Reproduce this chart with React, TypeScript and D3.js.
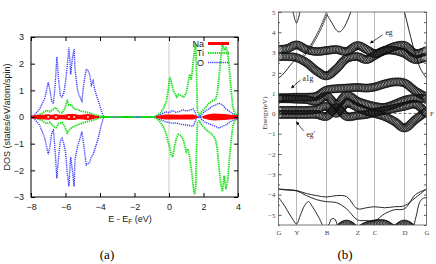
import React, { useRef, useEffect } from 'react';
import * as d3 from 'd3';

// ---------- panel (a): DOS, rows are [energy, spin up, spin down] ----------
const oDos: number[][] = [
  [-8, 0, 0], [-7.8, 0.08, -0.08], [-7.5, 0.3, -0.3], [-7.2, 0.7, -0.8], [-7.0, 1.3, -1.4],
  [-6.9, 1.0, -1.1], [-6.8, 0.6, -0.6], [-6.7, 0.5, -0.5], [-6.6, 1.2, -1.3], [-6.5, 2.25, -2.3],
  [-6.4, 1.4, -1.5], [-6.3, 0.8, -0.9], [-6.2, 0.75, -0.8], [-6.1, 0.9, -1.0], [-6.0, 1.3, -1.3],
  [-5.9, 1.9, -2.1], [-5.8, 2.6, -2.6], [-5.75, 2.2, -2.0], [-5.7, 1.6, -1.5], [-5.6, 2.2, -2.0],
  [-5.5, 2.55, -2.6], [-5.45, 1.8, -1.6], [-5.3, 1.0, -1.1], [-5.2, 0.8, -0.9], [-5.05, 0.6, -0.55],
  [-4.95, 1.2, -1.0], [-4.8, 1.8, -1.8], [-4.7, 1.75, -1.75], [-4.6, 1.6, -1.7], [-4.5, 1.2, -1.5],
  [-4.4, 1.35, -1.4], [-4.3, 1.0, -1.2], [-4.2, 0.8, -1.0], [-4.1, 0.6, -0.8], [-4.0, 0.4, -0.5],
  [-3.9, 0.2, -0.25], [-3.8, 0.02, -0.02], [-3.6, 0, 0], [-1.0, 0, 0], [-0.8, 0.02, -0.02],
  [-0.6, 0.08, -0.08], [-0.4, 0.12, -0.12], [-0.2, 0.2, -0.18], [0, 0.16, -0.2], [0.2, 0.24, -0.24],
  [0.4, 0.18, -0.22], [0.6, 0.2, -0.26], [0.8, 0.28, -0.28], [1.0, 0.22, -0.3], [1.2, 0.26, -0.32],
  [1.4, 0.3, -0.35], [1.5, 0.2, -0.2], [1.6, 0.02, -0.02], [1.8, 0.02, -0.02], [1.9, 0.1, -0.1],
  [2.1, 0.22, -0.2], [2.3, 0.3, -0.25], [2.5, 0.4, -0.3], [2.7, 0.45, -0.35], [2.9, 0.52, -0.42],
  [3.1, 0.45, -0.35], [3.3, 0.3, -0.3], [3.5, 0.22, -0.2], [3.7, 0.12, -0.12], [4.0, 0.08, -0.08],
];

const tiDos: number[][] = [
  [-8, 0, 0], [-7.7, 0.05, -0.05], [-7.4, 0.12, -0.12], [-7.1, 0.25, -0.25], [-6.9, 0.2, -0.2],
  [-6.7, 0.3, -0.35], [-6.55, 0.35, -0.4], [-6.4, 0.2, -0.25], [-6.2, 0.15, -0.2], [-6.05, 0.3, -0.35],
  [-5.9, 0.6, -0.6], [-5.8, 0.45, -0.5], [-5.65, 0.45, -0.4], [-5.5, 0.3, -0.35], [-5.3, 0.28, -0.3],
  [-5.1, 0.22, -0.25], [-4.9, 0.2, -0.2], [-4.6, 0.15, -0.15], [-4.3, 0.08, -0.1], [-4.0, 0.03, -0.03],
  [-3.8, 0, 0], [-0.9, 0, 0], [-0.7, 0.05, -0.05], [-0.5, 0.15, -0.2], [-0.3, 0.35, -0.4],
  [-0.15, 0.6, -0.65], [-0.05, 1.0, -0.95], [0.05, 1.5, -1.15], [0.12, 1.35, -1.4], [0.22, 1.05, -1.5],
  [0.32, 0.9, -1.1], [0.45, 0.75, -0.75], [0.55, 0.85, -0.65], [0.7, 0.8, -0.7], [0.85, 0.75, -0.9],
  [1.0, 0.9, -1.3], [1.1, 1.25, -1.2], [1.2, 1.6, -1.5], [1.28, 1.4, -1.9], [1.36, 1.75, -2.3],
  [1.44, 2.3, -2.8], [1.5, 2.65, -2.9], [1.55, 2.75, -2.6], [1.6, 1.5, -1.2], [1.65, 0.2, -0.2],
  [1.75, 0.08, -0.15], [1.9, 0.2, -0.3], [2.1, 0.35, -0.45], [2.3, 0.5, -0.55], [2.5, 0.6, -0.65],
  [2.7, 0.65, -0.85], [2.8, 0.9, -1.2], [2.9, 1.5, -1.9], [3.0, 2.2, -2.5], [3.1, 2.75, -2.8],
  [3.2, 2.5, -2.2], [3.3, 2.6, -2.7], [3.4, 2.45, -2.4], [3.5, 1.8, -1.6], [3.6, 1.0, -0.9],
  [3.7, 0.4, -0.35], [3.8, 0.15, -0.12], [4.0, 0.06, -0.05],
];

// NaN rows break the Na band where it is empty
const naDos: number[][] = [
  [-8, 0.02, -0.02], [-7.8, 0.04, -0.04], [-7.5, 0.05, -0.05], [-7.2, 0.06, -0.06], [-7.0, 0.07, -0.07],
  [-6.8, 0.05, -0.05], [-6.55, 0.08, -0.08], [-6.3, 0.05, -0.05], [-6.0, 0.06, -0.06], [-5.8, 0.08, -0.08],
  [-5.5, 0.08, -0.08], [-5.2, 0.05, -0.05], [-5.0, 0.06, -0.06], [-4.7, 0.08, -0.08], [-4.5, 0.06, -0.06],
  [-4.3, 0.03, -0.03], [-4.1, 0.01, -0.01], [-2, NaN, NaN],
  [-0.7, 0.01, -0.01], [-0.5, 0.04, -0.04], [-0.2, 0.06, -0.06], [0.2, 0.06, -0.06], [0.6, 0.05, -0.05],
  [1.0, 0.06, -0.06], [1.4, 0.06, -0.06], [1.6, 0.02, -0.02], [1.8, NaN, NaN],
  [2.0, 0.02, -0.02], [2.3, 0.07, -0.07], [2.6, 0.1, -0.1], [2.9, 0.09, -0.09], [3.2, 0.08, -0.08],
  [3.5, 0.06, -0.06], [4, 0.04, -0.04],
];
const naMarkers = [-7.0, -6.55, -5.8, -5.5, -4.7];

const dosLegend = ['Na', 'Ti', 'O'];

// ---------- panel (b): band structure ----------
const kPath = [0, 9, 18, 28, 38, 48, 58, 68, 79, 88, 96, 106, 116, 126, 137, 148];
const kTicks = [0, 18, 48, 79, 96, 126, 148];
const kLabels = ['G', 'Y', 'B', 'Z', 'C', 'D', 'G'];

// fat (projected) bands, energies at kPath
const fatBands: number[][] = [
  [3.15, 3.2, 3.38, 3.15, 3.05, 3.1, 3.15, 3.05, 3.35, 3.15, 2.95, 3.1, 3.3, 3.35, 2.95, 3.1],
  [2.8, 2.8, 2.75, 2.5, 2.1, 1.85, 2.2, 2.7, 2.8, 2.65, 2.85, 3.1, 3.1, 2.95, 2.65, 2.8],
  [0.78, 0.78, 0.8, 0.8, 0.85, 1.15, 1.22, 1.25, 1.28, 1.25, 1.3, 1.45, 1.55, 1.5, 1.1, 0.8],
  [0.72, 0.72, 0.7, 0.68, 0.6, 0.85, 0.45, 0.9, 0.6, 0.45, 0.35, 0.3, 0.45, 0.65, 0.75, 0.72],
  [0.15, 0.15, 0.15, 0.15, 0.2, 0.35, 0.0, 0.5, 0.3, 0.1, 0.0, -0.15, -0.4, -0.72, -0.3, 0.1],
  [-0.05, -0.05, -0.05, -0.05, -0.05, -0.15, 0.3, -0.15, -0.1, -0.05, 0.05, 0.15, 0.25, 0.35, 0.45, 0.0],
  [-6.2, -6.0, -5.8, -5.9, -6.0, -5.9, -5.75, -5.45, -5.75, -5.55, -5.45, -5.45, -5.7, -5.45, -5.8, -6.2],
];

// thin bands on the kPath grid
const thinBands: number[][] = [
  [-3.72, -3.76, -3.8, -3.95, -4.05, -4.12, -4.05, -4.1, -4.7, -4.65, -4.6, -4.65, -4.6, -4.55, -4.15, -3.72],
  [-3.74, -3.78, -3.82, -4.05, -4.25, -4.35, -4.4, -4.7, -5.25, -5.28, -5.3, -4.95, -4.75, -4.7, -4.0, -3.74],
];

// thin band pieces as [k, E]
const thinPieces: number[][][] = [
  [[13, 5.4], [15.5, 4.8], [18, 4.46], [20.5, 4.8], [23, 5.4]],
  [[48, 4.9], [53, 4.5], [58, 4.1], [61, 4.02], [65, 4.2], [70, 4.7], [75, 5.4]],
  [[0, 1.75], [4, 1.9], [9, 2.2], [14, 2.5], [18, 2.7]],
  [[124, 5.4], [128, 4.6], [132, 3.8], [137, 2.9], [142, 2.2], [148, 1.75]],
  [[0, -4.15], [4, -4.4], [9, -4.8], [14, -5.2], [18, -5.45], [22, -5.0], [26, -4.55], [30, -4.35],
    [34, -4.6], [40, -5.1], [46, -5.6], [50, -5.5], [53, -5.2], [56, -5.2], [59, -5.5], [62, -5.8]],
  [[134, -5.8], [138, -5.0], [141, -4.4], [144, -4.2], [148, -4.15]],
];
const markedPiece: number[][] = [[26, 2.9], [32, 3.3], [38, 3.8], [43, 4.3], [48, 4.9]];

const notes = [
  { text: 'eg', k: 107, E: 3.97, from: [104, 3.87], to: [92, 3.47] },
  { text: 'a1g', k: 24, E: 1.7, from: [22, 1.65], to: [13, 1.26] },
  { text: "eg'", k: 28, E: -1.06, from: [25, -0.86], to: [18, -0.42] },
];

const SANS = 'Liberation Sans, Arial, sans-serif';
const SERIF = 'Liberation Serif, Times New Roman, serif';

export default function App() {
  const ref = useRef<SVGSVGElement>(null);

  useEffect(() => {
    const svg = d3.select(ref.current);
    svg.selectAll('*').remove();
    const defs = svg.append('defs');
    defs.append('marker').attr('id', 'arr').attr('viewBox', '0 0 6 6')
      .attr('refX', 5).attr('refY', 3).attr('markerWidth', 5).attr('markerHeight', 5)
      .attr('orient', 'auto')
      .append('path').attr('d', 'M0,0L6,3L0,6z').attr('fill', '#000');

    // ===================== (a) =====================
    const x = d3.scaleLinear().domain([-8, 4]).range([31, 238]);
    const y = d3.scaleLinear().domain([-3, 3]).range([197, 37]);
    defs.append('clipPath').attr('id', 'clipA').append('rect')
      .attr('x', 31).attr('y', 37).attr('width', 207).attr('height', 160);

    const ga = svg.append('g');
    ga.append('line').attr('x1', x(0)).attr('x2', x(0)).attr('y1', y(-3)).attr('y2', y(3))
      .attr('stroke', '#aaa').attr('stroke-width', 0.6);
    ga.append('line').attr('x1', x(-8)).attr('x2', x(4)).attr('y1', y(0)).attr('y2', y(0))
      .attr('stroke', '#2f4f4f').attr('stroke-width', 1.2);

    const plot = ga.append('g').attr('clip-path', 'url(#clipA)');
    const lineUp = d3.line<number[]>().x((d) => x(d[0])).y((d) => y(d[1]));
    const lineDn = d3.line<number[]>().x((d) => x(d[0])).y((d) => y(d[2]));

    [lineUp, lineDn].forEach((ln) => {
      plot.append('path').attr('d', ln(oDos)).attr('fill', 'none')
        .attr('stroke', '#3a3aff').attr('stroke-width', 1.4).attr('stroke-dasharray', '1.2,0.9');
    });
    [lineUp, lineDn].forEach((ln) => {
      plot.append('path').attr('d', ln(tiDos)).attr('fill', 'none')
        .attr('stroke', '#19e019').attr('stroke-width', 1.8).attr('stroke-dasharray', '1.4,0.8');
    });
    const naArea = d3.area<number[]>().defined((d) => !isNaN(d[1]))
      .x((d) => x(d[0])).y0((d) => y(d[2])).y1((d) => y(d[1]));
    plot.append('path').attr('d', naArea(naDos)).attr('fill', '#ff0000')
      .attr('stroke', '#ff0000').attr('stroke-width', 1.6);
    plot.selectAll('circle.na').data(naMarkers).join('circle')
      .attr('cx', (d) => x(d)).attr('cy', y(0)).attr('r', 1.1)
      .attr('fill', '#ffd0d0').attr('stroke', 'none');

    ga.append('rect').attr('x', 31).attr('y', 37).attr('width', 207).attr('height', 160)
      .attr('fill', 'none').attr('stroke', '#000').attr('stroke-width', 1);

    const axA = (g: any, fs: number) => {
      g.attr('font-family', SANS).attr('font-size', fs);
      g.select('.domain').remove();
      g.selectAll('text').attr('fill', '#222');
    };
    ga.append('g').attr('transform', 'translate(31,0)')
      .call(d3.axisLeft(y).ticks(7).tickSize(-4).tickPadding(7)).call((g: any) => axA(g, 9));
    ga.append('g').attr('transform', 'translate(238,0)')
      .call(d3.axisRight(y).ticks(7).tickSize(-4).tickFormat(() => '')).call((g: any) => axA(g, 9));
    ga.append('g').attr('transform', 'translate(0,197)')
      .call(d3.axisBottom(x).ticks(7).tickSize(-4).tickPadding(7)).call((g: any) => axA(g, 9));
    ga.append('g').attr('transform', 'translate(0,37)')
      .call(d3.axisTop(x).ticks(7).tickSize(-4).tickFormat(() => '')).call((g: any) => axA(g, 9));

    ga.append('text').attr('transform', `translate(10,${y(0)}) rotate(-90)`)
      .attr('text-anchor', 'middle').attr('font-family', SANS).attr('font-size', 9).attr('fill', '#222')
      .text('DOS (states/eV/atom/spin)');
    const xl = ga.append('text').attr('x', 130).attr('y', 222).attr('text-anchor', 'middle')
      .attr('font-family', SANS).attr('font-size', 9).attr('fill', '#222');
    xl.append('tspan').text('E - E');
    xl.append('tspan').attr('font-size', 6.5).attr('dy', 2).text('F');
    xl.append('tspan').attr('dy', -2).text(' (eV)');

    const legStyle = [
      { stroke: '#ff0000', w: 3, dash: null },
      { stroke: '#19e019', w: 1.8, dash: '1.4,0.8' },
      { stroke: '#3a3aff', w: 1.4, dash: '1.2,0.9' },
    ];
    dosLegend.forEach((name, i) => {
      const ly = 43.5 + i * 9.5;
      ga.append('text').attr('x', 204).attr('y', ly + 3.2).attr('text-anchor', 'end')
        .attr('font-family', SANS).attr('font-size', 9).attr('fill', '#222').text(name);
      ga.append('line').attr('x1', 208).attr('x2', 229).attr('y1', ly).attr('y2', ly)
        .attr('stroke', legStyle[i].stroke).attr('stroke-width', legStyle[i].w)
        .attr('stroke-dasharray', legStyle[i].dash);
    });

    svg.append('text').attr('x', 107).attr('y', 259).attr('text-anchor', 'middle')
      .attr('font-family', SERIF).attr('font-size', 13).text('(a)');

    // ===================== (b) =====================
    const kx = d3.scaleLinear().domain([0, 148]).range([278.5, 426.5]);
    const ey = d3.scaleLinear().domain([-5.5, 5]).range([225, 12]);
    defs.append('clipPath').attr('id', 'clipB').append('rect')
      .attr('x', 278.5).attr('y', 12).attr('width', 148).attr('height', 213);

    const gb = svg.append('g');
    gb.selectAll('line.sym').data(kTicks.slice(1, -1)).join('line')
      .attr('x1', (d) => kx(d)).attr('x2', (d) => kx(d)).attr('y1', 12).attr('y2', 225)
      .attr('stroke', '#888').attr('stroke-width', 0.6);
    gb.append('line').attr('x1', kx(0)).attr('x2', kx(148)).attr('y1', ey(0)).attr('y2', ey(0))
      .attr('stroke', '#777').attr('stroke-width', 1).attr('stroke-dasharray', '3,2');

    const pb = gb.append('g').attr('clip-path', 'url(#clipB)');
    const bandLine = d3.line<number[]>().x((d) => kx(d[0])).y((d) => ey(d[1]))
      .curve(d3.curveCatmullRom);

    thinBands.forEach((b) => {
      pb.append('path').attr('d', bandLine(kPath.map((k, i) => [k, b[i]])))
        .attr('fill', 'none').attr('stroke', '#111').attr('stroke-width', 0.9);
    });
    thinPieces.forEach((p) => {
      pb.append('path').attr('d', bandLine(p))
        .attr('fill', 'none').attr('stroke', '#111').attr('stroke-width', 0.9);
    });
    const mp = pb.append('path').attr('d', bandLine(markedPiece))
      .attr('fill', 'none').attr('stroke', '#111').attr('stroke-width', 0.8);
    const mNode = mp.node() as SVGPathElement;
    const mLen = mNode.getTotalLength();
    for (let s = 0; s <= mLen; s += 2.2) {
      const p = mNode.getPointAtLength(s);
      pb.append('circle').attr('cx', p.x).attr('cy', p.y).attr('r', 1)
        .attr('fill', '#fff').attr('stroke', '#111').attr('stroke-width', 0.6);
    }

    fatBands.forEach((b) => {
      const path = pb.append('path').attr('d', bandLine(kPath.map((k, i) => [k, b[i]])))
        .attr('fill', 'none').attr('stroke', 'none');
      const node = path.node() as SVGPathElement;
      const len = node.getTotalLength();
      for (let s = 0; s <= len; s += 1.5) {
        const p = node.getPointAtLength(s);
        pb.append('circle').attr('cx', p.x).attr('cy', p.y).attr('r', 4)
          .attr('fill', 'none').attr('stroke', '#111').attr('stroke-width', 0.7);
      }
    });

    gb.append('rect').attr('x', 278.5).attr('y', 12).attr('width', 148).attr('height', 213)
      .attr('fill', 'none').attr('stroke', '#555').attr('stroke-width', 0.8);

    const axB = (g: any) => {
      g.attr('font-family', SERIF).attr('font-size', 7);
      g.select('.domain').remove();
      g.selectAll('text').attr('fill', '#444');
      g.selectAll('line').attr('stroke', '#555');
    };
    gb.append('g').attr('transform', 'translate(278.5,0)')
      .call(d3.axisLeft(ey).tickValues(d3.range(-5, 5.01, 1)).tickSize(-3).tickPadding(3)).call(axB);
    gb.append('g').attr('transform', 'translate(278.5,0)')
      .call(d3.axisLeft(ey).tickValues(d3.range(-5.5, 5, 1)).tickSize(-1.5).tickFormat(() => '')).call(axB);
    gb.append('g').attr('transform', 'translate(426.5,0)')
      .call(d3.axisRight(ey).tickValues(d3.range(-5.5, 5.01, 0.5)).tickSize(-2.5).tickFormat(() => '')).call(axB);
    gb.append('g').attr('transform', 'translate(0,225)')
      .call(d3.axisBottom(kx).tickValues(kTicks).tickSize(0).tickPadding(5)
        .tickFormat((_d: any, i: number) => kLabels[i])).call(axB);

    gb.append('text').attr('x', 430).attr('y', ey(0) + 2.5).attr('font-family', SERIF)
      .attr('font-size', 7).attr('fill', '#444').text('F');
    gb.append('text').attr('transform', `translate(267,113) rotate(-90)`).attr('text-anchor', 'middle')
      .attr('font-family', SERIF).attr('font-size', 7).attr('fill', '#333').text('Energy(eV)');

    notes.forEach((n) => {
      gb.append('text').attr('x', kx(n.k)).attr('y', ey(n.E) + 2.5).attr('font-family', SERIF)
        .attr('font-size', 7.5).attr('fill', '#222').text(n.text);
      gb.append('line').attr('x1', kx(n.from[0])).attr('y1', ey(n.from[1]))
        .attr('x2', kx(n.to[0])).attr('y2', ey(n.to[1]))
        .attr('stroke', '#000').attr('stroke-width', 0.7).attr('marker-end', 'url(#arr)');
    });

    svg.append('text').attr('x', 345).attr('y', 259).attr('text-anchor', 'middle')
      .attr('font-family', SERIF).attr('font-size', 13).text('(b)');
  }, []);

  return (
    <svg ref={ref} width={436} height={264}
      style={{ position: 'absolute', left: 0, top: 0, display: 'block', background: '#fff' }} />
  );
}
